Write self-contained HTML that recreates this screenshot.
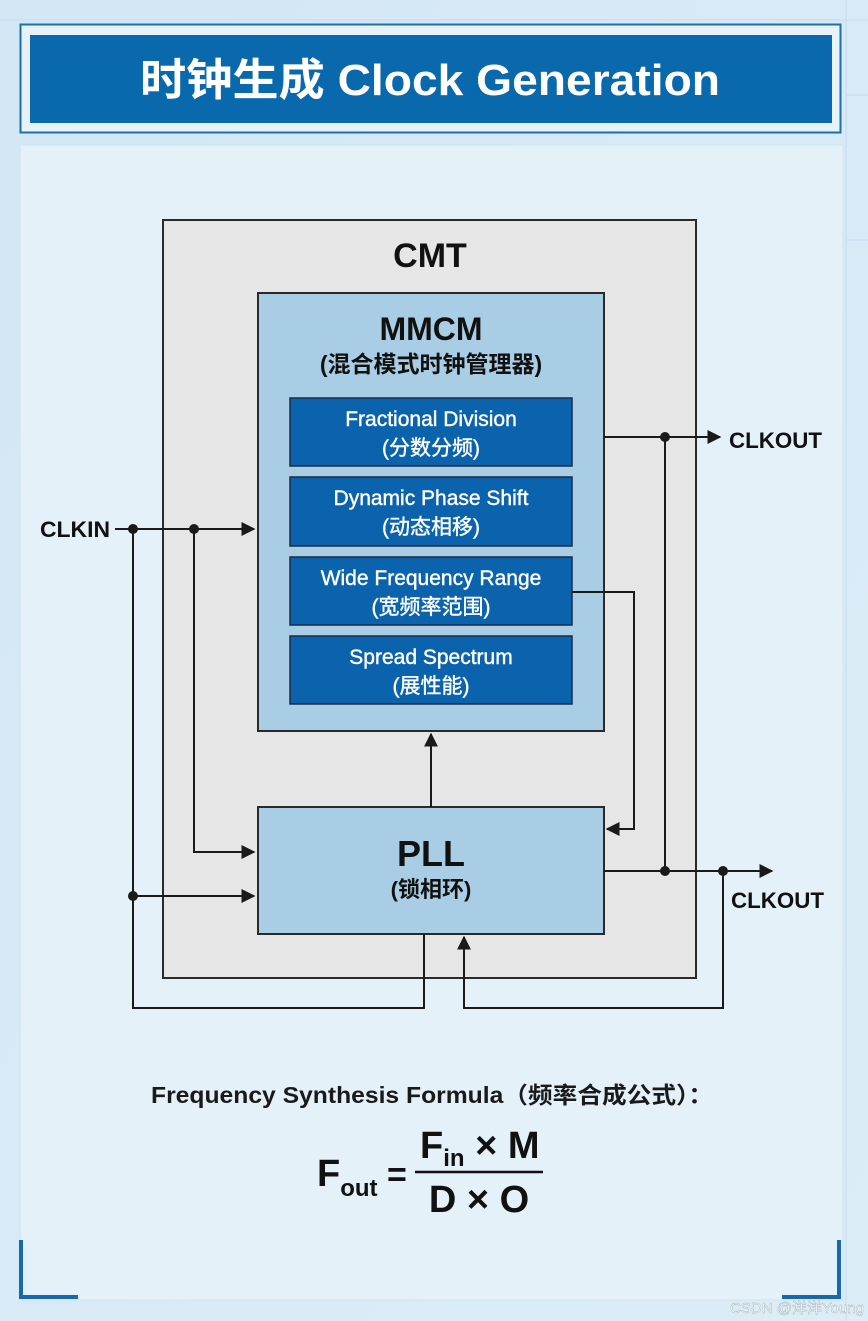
<!DOCTYPE html>
<html><head><meta charset="utf-8"><style>
html,body{margin:0;padding:0;width:868px;height:1321px;overflow:hidden;background:#d8eaf5;}
svg{display:block}
text{font-family:"Liberation Sans","Noto Sans CJK SC",sans-serif;}
</style></head><body>
<svg width="868" height="1321" viewBox="0 0 868 1321" xmlns="http://www.w3.org/2000/svg">
<defs>
<linearGradient id="bg" x1="0" y1="0" x2="1" y2="1"><stop offset="0" stop-color="#d3e7f4"/><stop offset="1" stop-color="#dcedf7"/></linearGradient>
<marker id="ar" viewBox="0 0 10 10" refX="9" refY="5" markerWidth="7" markerHeight="7" orient="auto"><path d="M0,0L10,5L0,10z" fill="#1a1a1a"/></marker>
</defs>
<rect width="868" height="1321" fill="url(#bg)"/>
<g stroke="#c4dcec" stroke-width="1">
<line x1="0" y1="20" x2="868" y2="20"/><line x1="846" y1="0" x2="846" y2="1321"/>
<line x1="846" y1="95" x2="868" y2="95"/><line x1="846" y1="240" x2="868" y2="240"/>
</g>
<rect x="20.5" y="24.5" width="820" height="108" fill="#e6f1f8" stroke="#1e6fae" stroke-width="2"/>
<rect x="30" y="35" width="802" height="88" fill="#0a69ad"/>
<text x="140" y="95" textLength="580" lengthAdjust="spacingAndGlyphs" font-size="44" font-weight="bold" fill="#fff">时钟生成 Clock Generation</text>
<rect x="20" y="145" width="823" height="1155" fill="#e4f1f9" stroke="#cfe3ef"/>
<rect x="163" y="220" width="533" height="758" fill="#e6e6e6" stroke="#2a2a2a" stroke-width="2"/>
<text x="430" y="267" text-anchor="middle" font-size="34" font-weight="bold" fill="#111">CMT</text>
<rect x="258" y="293" width="346" height="438" fill="#a8cde4" stroke="#2a2a2a" stroke-width="2"/>
<text x="431" y="340" text-anchor="middle" font-size="32" font-weight="bold" fill="#111">MMCM</text>
<text x="431" y="372" text-anchor="middle" font-size="23" font-weight="bold" fill="#111">(混合模式时钟管理器)</text>
<g fill="#0b63ae" stroke="#1b2b44" stroke-width="1.5">
<rect x="290" y="398" width="282" height="68"/>
<rect x="290" y="477" width="282" height="69"/>
<rect x="290" y="557" width="282" height="68"/>
<rect x="290" y="636" width="282" height="68"/>
</g>
<g fill="#fff" font-size="21" text-anchor="middle" stroke="#fff" stroke-width="0.4">
<text x="431" y="426">Fractional Division</text><text x="431" y="455">(分数分频)</text>
<text x="431" y="505">Dynamic Phase Shift</text><text x="431" y="534">(动态相移)</text>
<text x="431" y="585">Wide Frequency Range</text><text x="431" y="614">(宽频率范围)</text>
<text x="431" y="664">Spread Spectrum</text><text x="431" y="693">(展性能)</text>
</g>
<rect x="258" y="807" width="346" height="127" fill="#a8cde4" stroke="#2a2a2a" stroke-width="2"/>
<text x="431" y="866" text-anchor="middle" font-size="36" font-weight="bold" fill="#111">PLL</text>
<text x="431" y="897" text-anchor="middle" font-size="22" font-weight="bold" fill="#111">(锁相环)</text>
<g stroke="#1a1a1a" stroke-width="2" fill="none">
<line x1="115" y1="529" x2="254" y2="529" marker-end="url(#ar)"/>
<polyline points="194,529 194,852 254,852" marker-end="url(#ar)"/>
<line x1="133" y1="896" x2="254" y2="896" marker-end="url(#ar)"/>
<polyline points="133,529 133,1008 424,1008 424,934"/>
<line x1="431" y1="807" x2="431" y2="734" marker-end="url(#ar)"/>
<line x1="604" y1="437" x2="720" y2="437" marker-end="url(#ar)"/>
<line x1="665" y1="437" x2="665" y2="871"/>
<line x1="604" y1="871" x2="772" y2="871" marker-end="url(#ar)"/>
<polyline points="723,871 723,1008 464,1008 464,937" marker-end="url(#ar)"/>
<polyline points="572,592 634,592 634,829 607,829" marker-end="url(#ar)"/>
</g>
<g fill="#1a1a1a">
<circle cx="133" cy="529" r="5"/><circle cx="194" cy="529" r="5"/><circle cx="133" cy="896" r="5"/>
<circle cx="665" cy="437" r="5"/><circle cx="665" cy="871" r="5"/><circle cx="723" cy="871" r="5"/>
</g>
<g font-size="22" font-weight="bold" fill="#111">
<text x="40" y="537" textLength="70" lengthAdjust="spacingAndGlyphs">CLKIN</text>
<text x="729" y="448" textLength="93" lengthAdjust="spacingAndGlyphs">CLKOUT</text>
<text x="731" y="908" textLength="93" lengthAdjust="spacingAndGlyphs">CLKOUT</text>
</g>
<text x="151" y="1103" textLength="562" lengthAdjust="spacingAndGlyphs" font-size="23" font-weight="bold" fill="#1a1a1a">Frequency Synthesis Formula（频率合成公式）：</text>
<text x="317" y="1186" font-size="38" font-weight="bold" fill="#111">F<tspan font-size="24" dy="10">out</tspan><tspan dy="-10" font-size="34"> =</tspan></text>
<line x1="415" y1="1172" x2="543" y2="1172" stroke="#111" stroke-width="2.5"/>
<text x="420" y="1158" font-size="38" font-weight="bold" fill="#111">F<tspan font-size="24" dy="8">in</tspan><tspan dy="-8"> × M</tspan></text>
<text x="479" y="1212" text-anchor="middle" font-size="38" font-weight="bold" fill="#111">D × O</text>
<polyline points="21,1240 21,1297 78,1297" stroke="#1868b0" stroke-width="4" fill="none"/>
<polyline points="839,1240 839,1297 782,1297" stroke="#1868b0" stroke-width="4" fill="none"/>
<text x="864" y="1313" text-anchor="end" font-size="15" fill="#fff" stroke="#9aa" stroke-width="0.4">CSDN @洋洋Young</text>
</svg>
</body></html>
